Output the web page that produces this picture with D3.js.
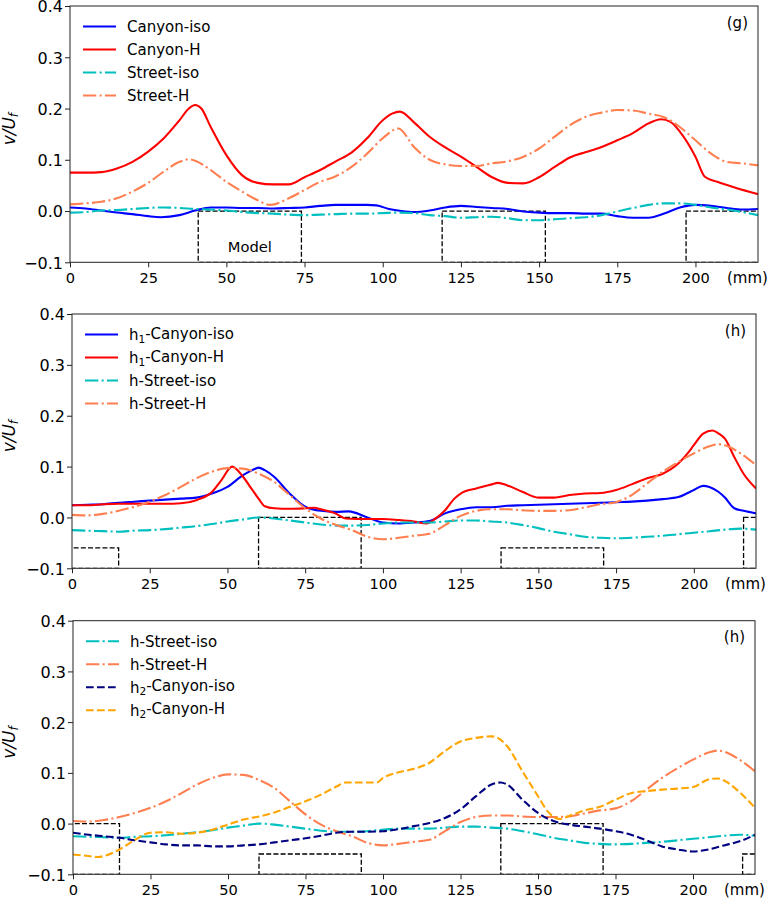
<!DOCTYPE html>
<html>
<head>
<meta charset="utf-8">
<script src="https://cdn.jsdelivr.net/npm/d3@7"></script>
<style>
  body { margin: 0; background: #fff; }
  svg { display: block; font-family: "DejaVu Sans", sans-serif; }
</style>
</head>
<body>
<div id="chart"></div>
<script>
// ---- data: [position (mm), v/Uf] ----
const xTicks = [0, 25, 50, 75, 100, 125, 150, 175, 200];
const yTicks = [-0.1, 0, 0.1, 0.2, 0.3, 0.4];

// panel (g)
const canyonIso = [[0,0.007],[5,0.005],[10,0.001],[15,-0.003],[20,-0.006],[25,-0.01],[29,-0.012],[35,-0.008],[40,0.001],[45,0.007],[50,0.007],[55,0.006],[60,0.006],[65,0.005],[70,0.006],[75,0.007],[80,0.01],[85,0.012],[90,0.012],[95,0.012],[98,0.011],[102,0.004],[106,0.0],[110,-0.002],[115,0.001],[120,0.007],[125,0.01],[130,0.008],[135,0.006],[140,0.004],[145,-0.001],[150,-0.003],[155,-0.004],[160,-0.004],[165,-0.005],[170,-0.005],[175,-0.01],[180,-0.013],[185,-0.013],[190,-0.005],[195,0.007],[200,0.012],[205,0.01],[210,0.006],[215,0.003],[220,0.004]];
const canyonH = [[0,0.075],[5,0.075],[10,0.076],[15,0.083],[20,0.096],[25,0.116],[30,0.142],[35,0.177],[38,0.2],[40,0.207],[42,0.2],[45,0.164],[50,0.109],[55,0.07],[60,0.055],[65,0.052],[70,0.052],[75,0.066],[80,0.08],[85,0.097],[90,0.114],[95,0.142],[100,0.177],[103,0.19],[105.5,0.194],[110,0.173],[115,0.145],[120,0.124],[125,0.106],[130,0.086],[135,0.066],[140,0.055],[145,0.054],[150,0.066],[155,0.086],[160,0.105],[165,0.115],[170,0.125],[175,0.138],[180,0.152],[185,0.171],[189,0.179],[192,0.174],[195,0.155],[200,0.106],[203,0.067],[207,0.057],[213,0.045],[220,0.033]];
const streetIso = [[0,-0.003],[5,-0.002],[10,0.001],[15,0.002],[20,0.004],[25,0.006],[30,0.007],[35,0.006],[40,0.004],[45,0.003],[50,0.001],[55,-0.002],[60,-0.004],[65,-0.005],[70,-0.007],[75,-0.008],[80,-0.007],[85,-0.006],[90,-0.005],[95,-0.005],[100,-0.004],[105,-0.003],[110,-0.004],[115,-0.008],[120,-0.01],[125,-0.013],[130,-0.012],[135,-0.011],[140,-0.014],[145,-0.018],[150,-0.018],[155,-0.016],[160,-0.014],[165,-0.012],[170,-0.008],[175,-0.001],[180,0.006],[185,0.012],[190,0.015],[195,0.015],[200,0.012],[205,0.007],[210,0.003],[215,-0.002],[220,-0.008]];
const streetH = [[0,0.013],[5,0.015],[10,0.018],[15,0.025],[20,0.038],[25,0.055],[30,0.077],[35,0.096],[38,0.101],[40,0.098],[45,0.08],[50,0.057],[55,0.038],[60,0.021],[64,0.012],[70,0.025],[75,0.041],[80,0.057],[85,0.068],[90,0.086],[95,0.112],[100,0.142],[105,0.161],[110,0.125],[115,0.1],[120,0.091],[125,0.088],[130,0.088],[135,0.093],[140,0.097],[145,0.106],[150,0.122],[155,0.145],[160,0.168],[165,0.184],[170,0.192],[175,0.197],[180,0.196],[185,0.19],[190,0.183],[195,0.164],[200,0.138],[205,0.112],[210,0.096],[215,0.093],[220,0.089]];

// panels (h)
const h1CanyonIso = [[0,0.024],[5,0.025],[10,0.026],[15,0.029],[20,0.031],[25,0.033],[30,0.035],[35,0.037],[40,0.039],[45,0.047],[50,0.06],[55,0.083],[58,0.093],[60,0.098],[62,0.093],[65,0.08],[70,0.047],[75,0.021],[80,0.013],[85,0.011],[89,0.012],[95,0.0],[100,-0.01],[105,-0.012],[110,-0.01],[115,-0.007],[120,0.008],[125,0.016],[130,0.02],[135,0.02],[140,0.023],[145,0.024],[150,0.025],[155,0.026],[160,0.027],[165,0.028],[170,0.029],[175,0.03],[180,0.031],[185,0.033],[190,0.036],[195,0.04],[198,0.048],[200,0.054],[203,0.062],[205,0.06],[208,0.05],[210,0.039],[213,0.018],[216,0.013],[220,0.008]];
const h1CanyonH = [[0,0.024],[5,0.024],[10,0.026],[15,0.027],[20,0.027],[25,0.027],[30,0.027],[35,0.028],[40,0.034],[45,0.05],[48,0.073],[51.5,0.1],[55,0.08],[58,0.054],[60,0.037],[62,0.022],[65,0.018],[70,0.017],[75,0.018],[78,0.019],[80,0.016],[85,0.007],[88,-0.002],[95,-0.003],[100,-0.003],[105,-0.005],[110,-0.008],[114,-0.012],[117,-0.002],[120,0.014],[123,0.037],[125,0.047],[130,0.057],[135,0.065],[137,0.068],[140,0.063],[145,0.05],[150,0.039],[155,0.039],[160,0.044],[165,0.047],[170,0.048],[175,0.054],[180,0.065],[185,0.077],[190,0.086],[195,0.106],[198,0.126],[200,0.142],[203,0.165],[206,0.171],[208,0.165],[210,0.155],[213,0.119],[216,0.086],[220,0.057]];
const hStreetIso = [[0,-0.025],[5,-0.026],[10,-0.027],[15,-0.028],[20,-0.026],[25,-0.025],[30,-0.023],[35,-0.02],[40,-0.017],[45,-0.013],[50,-0.008],[55,-0.004],[60,0.0],[65,-0.002],[70,-0.006],[75,-0.01],[80,-0.014],[85,-0.016],[90,-0.016],[95,-0.015],[100,-0.012],[105,-0.01],[110,-0.01],[115,-0.01],[120,-0.008],[125,-0.006],[130,-0.006],[135,-0.008],[140,-0.01],[145,-0.015],[150,-0.021],[155,-0.028],[160,-0.033],[165,-0.038],[170,-0.04],[175,-0.041],[180,-0.04],[185,-0.038],[190,-0.036],[195,-0.033],[200,-0.03],[205,-0.027],[210,-0.024],[215,-0.022],[220,-0.024]];
const hStreetH = [[0,0.005],[5,0.004],[10,0.007],[15,0.013],[20,0.021],[25,0.031],[30,0.044],[35,0.06],[40,0.077],[45,0.09],[50,0.097],[55,0.096],[60,0.086],[65,0.07],[70,0.044],[75,0.018],[80,-0.002],[85,-0.015],[90,-0.025],[95,-0.038],[100,-0.043],[105,-0.04],[110,-0.036],[115,-0.032],[120,-0.015],[125,0.003],[130,0.013],[135,0.016],[140,0.016],[145,0.014],[150,0.013],[155,0.013],[160,0.014],[165,0.02],[170,0.026],[175,0.03],[180,0.044],[185,0.067],[190,0.09],[195,0.109],[200,0.126],[205,0.14],[208,0.144],[210,0.142],[215,0.126],[220,0.103]];
const h2CanyonIso = [[0,-0.018],[5,-0.022],[10,-0.025],[15,-0.028],[20,-0.033],[25,-0.037],[30,-0.041],[35,-0.043],[40,-0.043],[45,-0.045],[50,-0.045],[55,-0.043],[60,-0.041],[65,-0.037],[70,-0.033],[75,-0.029],[80,-0.024],[85,-0.018],[90,-0.016],[95,-0.016],[100,-0.015],[105,-0.011],[110,-0.005],[115,0.001],[120,0.011],[125,0.028],[130,0.054],[135,0.077],[138,0.081],[140,0.077],[145,0.047],[150,0.021],[155,0.005],[160,-0.002],[165,-0.006],[170,-0.01],[175,-0.015],[180,-0.022],[185,-0.033],[190,-0.045],[195,-0.051],[200,-0.055],[205,-0.051],[210,-0.043],[215,-0.035],[220,-0.022]];
const h2CanyonH = [[0,-0.061],[5,-0.064],[8,-0.066],[10,-0.064],[15,-0.051],[20,-0.032],[25,-0.018],[30,-0.017],[35,-0.02],[40,-0.018],[45,-0.012],[50,-0.002],[55,0.008],[60,0.014],[65,0.022],[70,0.033],[75,0.044],[80,0.057],[85,0.073],[88,0.081],[93,0.081],[98,0.081],[100,0.09],[105,0.101],[110,0.108],[115,0.12],[120,0.143],[125,0.162],[130,0.169],[135,0.172],[137,0.169],[140,0.153],[145,0.103],[150,0.054],[153,0.025],[157,0.009],[160,0.015],[165,0.026],[170,0.033],[175,0.047],[180,0.06],[185,0.064],[190,0.067],[195,0.069],[200,0.072],[205,0.087],[208,0.089],[210,0.085],[215,0.062],[220,0.031]];

// model outlines: [x start, x end, top value]; bottom is the axis floor
const boxesG = [[41,74,0],[119,152,0],[197,230,0]];
const boxesH1 = [[-18,15,-0.06],[60,93,0],[138,171,-0.06],[216,249,0]];
const boxesH2 = [[-18,15,0],[60,93,-0.06],[138,171,0],[216,249,-0.06]];

// ---- styles ----
const DASHDOT = "13.3,3.3,2.1,3.3";
const DASHED = "7.7,3.3";
const sty = {
  blue:   {color: "#0000ff", dash: null},
  red:    {color: "#ff0000", dash: null},
  cyan:   {color: "#00bfbf", dash: DASHDOT},
  coral:  {color: "#ff7f50", dash: DASHDOT},
  navy:   {color: "#000080", dash: DASHED},
  orange: {color: "#ffa500", dash: DASHED}
};

const panels = [
  {left: 70, right: 758, top: 6, bottom: 262.3, tag: "(g)", boxes: boxesG, model: true,
   series: [
     {name: "Canyon-iso", data: canyonIso, ...sty.blue},
     {name: "Canyon-H", data: canyonH, ...sty.red},
     {name: "Street-iso", data: streetIso, ...sty.cyan},
     {name: "Street-H", data: streetH, ...sty.coral}
   ]},
  {left: 72, right: 756, top: 314, bottom: 568.3, tag: "(h)", boxes: boxesH1,
   series: [
     {name: "h_1-Canyon-iso", data: h1CanyonIso, ...sty.blue},
     {name: "h_1-Canyon-H", data: h1CanyonH, ...sty.red},
     {name: "h-Street-iso", data: hStreetIso, ...sty.cyan},
     {name: "h-Street-H", data: hStreetH, ...sty.coral}
   ]},
  {left: 73, right: 755, top: 620.7, bottom: 874.3, tag: "(h)", boxes: boxesH2,
   series: [
     {name: "h-Street-iso", data: hStreetIso, ...sty.cyan},
     {name: "h-Street-H", data: hStreetH, ...sty.coral},
     {name: "h_2-Canyon-iso", data: h2CanyonIso, ...sty.navy},
     {name: "h_2-Canyon-H", data: h2CanyonH, ...sty.orange}
   ]}
];

const svg = d3.select("#chart")
  .append("svg")
    .attr("width", 768)
    .attr("height", 898);

// write "h_1-..." with a real subscript
function labelText(sel, name) {
  const m = name.match(/^(.*?)_(.)(.*)$/);
  if (!m) { sel.text(name); return; }
  sel.append("tspan").text(m[1]);
  sel.append("tspan").attr("font-size", "70%").attr("dy", "0.25em").text(m[2]);
  sel.append("tspan").attr("dy", "-0.25em").text(m[3]);
}

panels.forEach((p, i) => {
  const x = d3.scaleLinear().domain([0, 220]).range([p.left, p.right]);
  const y = d3.scaleLinear().domain([-0.1, 0.4]).range([p.bottom, p.top]);
  const g = svg.append("g");

  svg.append("clipPath").attr("id", "clip" + i)
    .append("rect")
      .attr("x", p.left).attr("y", p.top)
      .attr("width", p.right - p.left).attr("height", p.bottom - p.top);

  const plot = g.append("g").attr("clip-path", `url(#clip${i})`);

  // dashed model outlines
  plot.selectAll(".box")
    .data(p.boxes)
    .enter()
    .append("rect")
      .attr("x", d => x(d[0]))
      .attr("y", d => y(d[2]))
      .attr("width", d => x(d[1]) - x(d[0]))
      .attr("height", d => y(-0.1) - y(d[2]))
      .attr("fill", "none")
      .attr("stroke", "#000")
      .attr("stroke-width", 1.3)
      .attr("stroke-dasharray", "5,2.2");

  if (p.model) {
    const b = p.boxes[0];
    g.append("text")
      .attr("x", x((b[0] + b[1]) / 2))
      .attr("y", y(-0.08))
      .attr("text-anchor", "middle")
      .style("font-size", "14.7px")
      .text("Model");
  }

  const line = d3.line()
    .x(d => x(d[0]))
    .y(d => y(d[1]))
    .curve(d3.curveMonotoneX);

  plot.selectAll(".series")
    .data(p.series)
    .enter()
    .append("path")
      .attr("d", s => line(s.data))
      .attr("fill", "none")
      .attr("stroke", s => s.color)
      .attr("stroke-width", 2.1)
      .attr("stroke-dasharray", s => s.dash)
      .attr("stroke-linejoin", "round");

  // axes (drop d3's own font attrs so DejaVu is used)
  const xAxis = g.append("g")
    .attr("transform", `translate(0,${p.bottom})`)
    .call(d3.axisBottom(x).tickValues(xTicks).tickSize(5).tickPadding(5).tickSizeOuter(0))
    .attr("font-family", null).attr("font-size", null);
  xAxis.selectAll("text").style("font-size", "14.6px").attr("fill", "#000");

  const yAxis = g.append("g")
    .attr("transform", `translate(${p.left},0)`)
    .call(d3.axisLeft(y).tickValues(yTicks).tickFormat(d3.format(".1f")).tickSize(5).tickPadding(2).tickSizeOuter(0))
    .attr("font-family", null).attr("font-size", null);
  yAxis.selectAll("text").style("font-size", "16px").attr("dy", "0.37em").attr("fill", "#000");

  g.selectAll(".domain").remove();
  g.selectAll(".tick line").attr("stroke", "#222");

  g.append("rect")
    .attr("x", p.left).attr("y", p.top)
    .attr("width", p.right - p.left).attr("height", p.bottom - p.top)
    .attr("fill", "none")
    .attr("stroke", "#222")
    .attr("stroke-width", 1);

  g.append("text")
    .attr("x", p.right - 31)
    .attr("y", p.bottom + 21)
    .style("font-size", "15px")
    .text("(mm)");

  g.append("text")
    .attr("x", p.right - 10)
    .attr("y", p.top + 21.5)
    .attr("text-anchor", "end")
    .style("font-size", "15px")
    .text(p.tag);

  // y label v/U_f
  const mid = (p.top + p.bottom) / 2 - 5;
  const yl = g.append("text")
    .attr("transform", `translate(15,${mid}) rotate(-90)`)
    .attr("text-anchor", "middle")
    .style("font-size", "17px")
    .style("font-style", "italic");
  yl.append("tspan").text("v/U");
  yl.append("tspan").attr("font-size", "70%").attr("dy", "0.25em").text("f");

  // legend
  const leg = g.append("g");
  p.series.forEach((s, k) => {
    const ly = p.top + 20.5 + 23 * k;
    leg.append("line")
      .attr("x1", p.left + 13).attr("x2", p.left + 46)
      .attr("y1", ly).attr("y2", ly)
      .attr("stroke", s.color)
      .attr("stroke-width", 2.1)
      .attr("stroke-dasharray", s.dash);
    leg.append("text")
      .attr("x", p.left + 57)
      .attr("y", ly)
      .attr("dy", "0.36em")
      .style("font-size", "15px")
      .call(labelText, s.name);
  });
});
</script>
</body>
</html>
